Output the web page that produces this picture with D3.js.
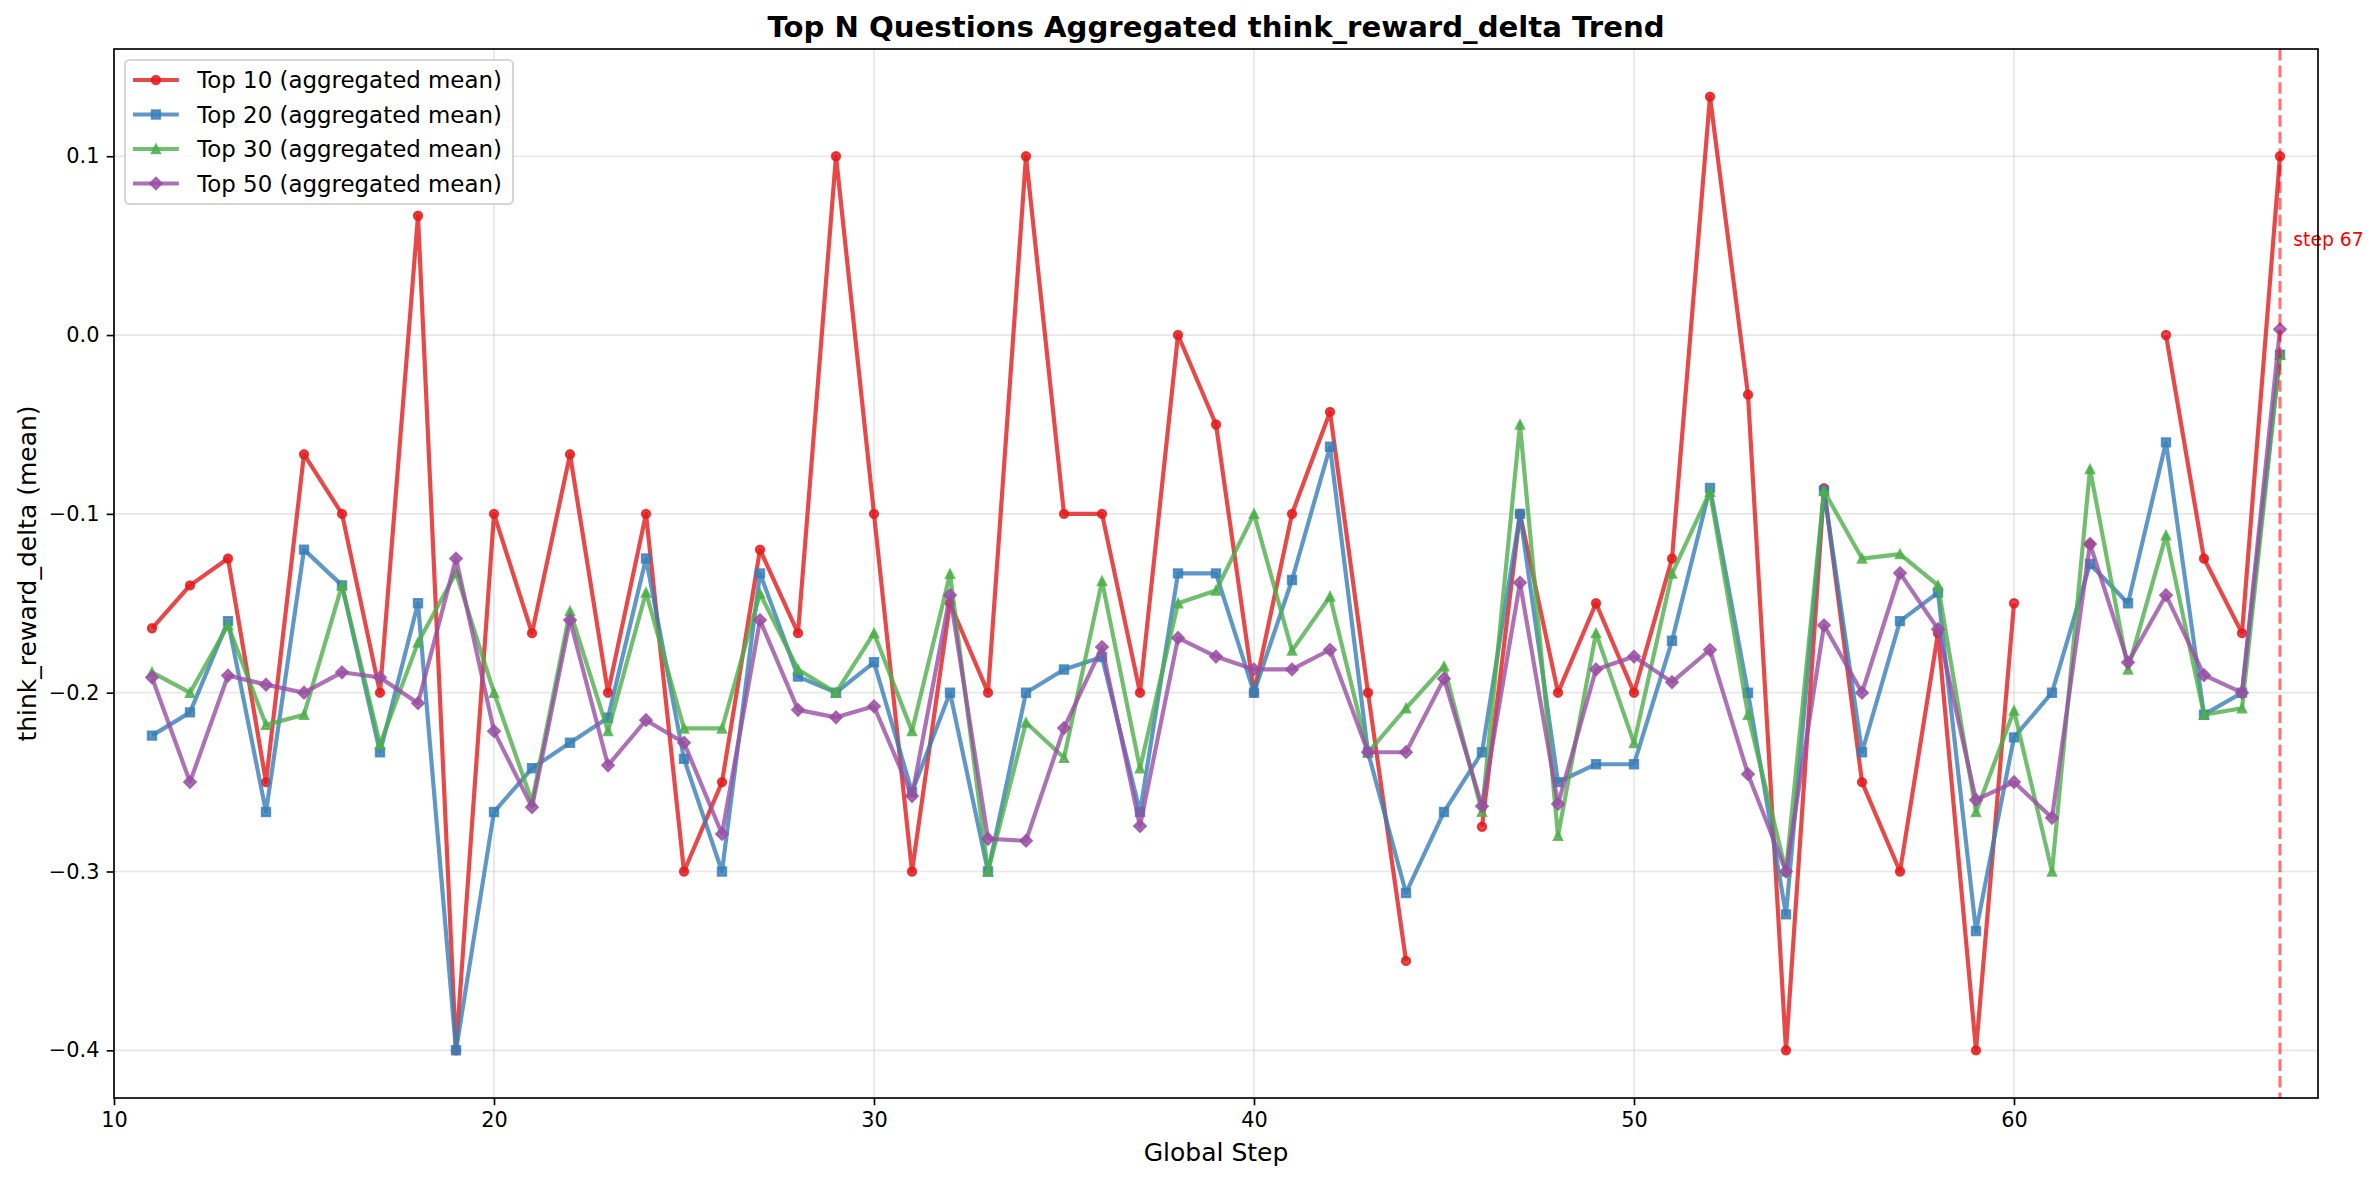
<!DOCTYPE html>
<html>
<head>
<meta charset="utf-8">
<script src="https://cdn.jsdelivr.net/npm/d3@7"></script>
<style>
  body { margin: 0; background: #fff; }
  svg { display: block; }
  text { font-family: "DejaVu Sans", sans-serif; }
</style>
</head>
<body>
<svg id="chart"></svg>
<script>
// data
var steps = [11, 12, 13, 14, 15, 16, 17, 18, 19, 20, 21, 22, 23, 24, 25, 26, 27, 28, 29,
             30, 31, 32, 33, 34, 35, 36, 37, 38, 39, 40, 41, 42, 43, 44, 45, 46, 47, 48,
             49, 50, 51, 52, 53, 54, 55, 56, 57, 58, 59, 60, 61, 62, 63, 64, 65, 66, 67];

var top10 = [-0.164, -0.14, -0.125, -0.25, -0.0667, -0.1, -0.2, 0.0667, -0.4, -0.1,
             -0.1667, -0.0667, -0.2, -0.1, -0.3, -0.25, -0.12, -0.1667, 0.1, -0.1,
             -0.3, -0.15, -0.2, 0.1, -0.1, -0.1, -0.2, 0.0, -0.05, -0.2,
             -0.1, -0.043, -0.2, -0.35, null, -0.275, -0.1, -0.2, -0.15, -0.2,
             -0.125, 0.1333, -0.0333, -0.4, -0.0857, -0.25, -0.3, -0.1667, -0.4, -0.15,
             null, -0.117, null, 0.0, -0.125, -0.1667, 0.1];

var top20 = [-0.224, -0.211, -0.16, -0.2667, -0.12, -0.14, -0.2333, -0.15, -0.4, -0.2667,
             -0.2423, -0.228, -0.214, -0.125, -0.237, -0.3, -0.1333, -0.191, -0.2, -0.183,
             -0.2556, -0.2, -0.3, -0.2, -0.187, -0.18, -0.2667, -0.1333, -0.1333, -0.2,
             -0.137, -0.0625, -0.2333, -0.312, -0.2667, -0.2333, -0.1, -0.25, -0.24, -0.24,
             -0.171, -0.0855, -0.2, -0.324, -0.087, -0.2333, -0.16, -0.144, -0.3333, -0.225,
             -0.2, -0.128, -0.15, -0.06, -0.2123, -0.2, -0.011];

var top30 = [-0.1886, -0.2, -0.1623, -0.218, -0.2123, -0.14, -0.229, -0.172, -0.133, -0.2,
             -0.261, -0.1544, -0.2215, -0.144, -0.22, -0.22, -0.1446, -0.187, -0.2, -0.1667,
             -0.2215, -0.1336, -0.3, -0.2167, -0.2364, -0.1376, -0.2423, -0.15, -0.1429, -0.1,
             -0.1765, -0.1462, -0.2335, -0.2087, -0.1853, -0.2666, -0.05, -0.28, -0.1667, -0.2282,
             -0.1334, -0.0876, -0.2123, -0.3, -0.0872, -0.125, -0.1225, -0.14, -0.2667, -0.21,
             -0.3, -0.075, -0.187, -0.112, -0.2123, -0.2087, -0.011];

var top50 = [-0.1915, -0.25, -0.1904, -0.1955, -0.2, -0.1886, -0.1915, -0.2059, -0.125, -0.2215,
             -0.264, -0.1594, -0.2406, -0.2154, -0.228, -0.279, -0.1594, -0.2096, -0.2138, -0.2076,
             -0.2578, -0.1455, -0.2817, -0.2828, -0.2198, -0.1745, -0.2746, -0.1694, -0.1798, -0.187,
             -0.187, -0.176, -0.2333, -0.2333, -0.1922, -0.2635, -0.1385, -0.2622, -0.187, -0.1798,
             -0.1941, -0.176, -0.2456, -0.3, -0.1623, -0.2, -0.1331, -0.1645, -0.26, -0.25,
             -0.27, -0.1168, -0.1831, -0.1455, -0.1902, -0.2, 0.0032];

var seriesNames = ["Top 10 (aggregated mean)", "Top 20 (aggregated mean)",
                   "Top 30 (aggregated mean)", "Top 50 (aggregated mean)"];
var seriesValues = [top10, top20, top30, top50];
var seriesColors = ["#e41a1c", "#377eb8", "#4daf4a", "#984ea3"];
var seriesMarkers = ["circle", "square", "triangle", "diamond"];

var xTicks = [10, 20, 30, 40, 50, 60];
var yTicks = [-0.4, -0.3, -0.2, -0.1, 0.0, 0.1];
var xLimits = [10, 68];
var markStep = 67;
var markLabel = "step 67";
var markLabelY = 0.0535;

var titleText = "Top N Questions Aggregated think_reward_delta Trend";
var xLabelText = "Global Step";
var yLabelText = "think_reward_delta (mean)";

// layout (px, figure at 150 dpi)
var width = 2378, height = 1180,
    plot = { left: 114, right: 2318, top: 49, bottom: 1098 },
    pt = 150 / 72,
    lineW = 2 * pt,
    markerSize = 4 * pt,
    tickLen = 3.5 * pt;

var svg = d3.select("#chart").attr("width", width).attr("height", height);

// matplotlib style 5% margin on y
var allVals = [].concat(top10, top20, top30, top50).filter(function(v) { return v != null; });
var yMin = d3.min(allVals), yMax = d3.max(allVals), yPad = (yMax - yMin) * 0.05;

var x = d3.scaleLinear().domain(xLimits).range([plot.left, plot.right]);
var y = d3.scaleLinear().domain([yMin - yPad, yMax + yPad]).range([plot.bottom, plot.top]);

// grid
var grid = svg.append("g").attr("stroke", "#b0b0b0").attr("stroke-opacity", 0.3).attr("stroke-width", 0.8 * pt);
grid.selectAll(".gx").data(xTicks).enter().append("line")
  .attr("x1", function(d) { return x(d); }).attr("x2", function(d) { return x(d); })
  .attr("y1", plot.top).attr("y2", plot.bottom);
grid.selectAll(".gy").data(yTicks).enter().append("line")
  .attr("y1", function(d) { return y(d); }).attr("y2", function(d) { return y(d); })
  .attr("x1", plot.left).attr("x2", plot.right);

function markerPath(kind, s) {
  var h = s / 2, d = s * 0.7071;
  if (kind === "square") return "M" + -h + "," + -h + "H" + h + "V" + h + "H" + -h + "Z";
  if (kind === "triangle") return "M0," + -h + "L" + h + "," + h + "L" + -h + "," + h + "Z";
  if (kind === "diamond") return "M0," + -d + "L" + d + ",0L0," + d + "L" + -d + ",0Z";
  return d3.arc()({ innerRadius: 0, outerRadius: h, startAngle: 0, endAngle: 2 * Math.PI });
}

var line = d3.line()
  .defined(function(d) { return d.v != null; })
  .x(function(d) { return x(d.s); })
  .y(function(d) { return y(d.v); });

seriesValues.forEach(function(vals, i) {
  var pts = steps.map(function(s, j) { return { s: s, v: vals[j] }; });
  var g = svg.append("g");
  g.append("path").datum(pts)
    .attr("d", line)
    .attr("fill", "none")
    .attr("stroke", seriesColors[i])
    .attr("stroke-opacity", 0.8)
    .attr("stroke-width", lineW)
    .attr("stroke-linejoin", "round");
  g.selectAll("path.mk").data(pts.filter(function(d) { return d.v != null; }))
    .enter().append("path")
    .attr("class", "mk")
    .attr("d", markerPath(seriesMarkers[i], markerSize))
    .attr("transform", function(d) { return "translate(" + x(d.s) + "," + y(d.v) + ")"; })
    .attr("fill", seriesColors[i]).attr("fill-opacity", 0.8)
    .attr("stroke", seriesColors[i]).attr("stroke-opacity", 0.8)
    .attr("stroke-width", 1 * pt);
});

// marker line for latest step
svg.append("line")
  .attr("x1", x(markStep)).attr("x2", x(markStep))
  .attr("y1", plot.top).attr("y2", plot.bottom)
  .attr("stroke", "red").attr("stroke-opacity", 0.55)
  .attr("stroke-width", 1.5 * pt)
  .attr("stroke-dasharray", (3.7 * 1.5 * pt) + "," + (1.6 * 1.5 * pt));
svg.append("text")
  .attr("x", x(markStep + 0.35)).attr("y", y(markLabelY))
  .attr("dy", "0.35em")
  .attr("fill", "red")
  .attr("font-size", 9 * pt)
  .text(markLabel);

// axes
var xAxis = d3.axisBottom(x).tickValues(xTicks).tickSize(tickLen).tickPadding(tickLen).tickFormat(d3.format("d"));
var yAxis = d3.axisLeft(y).tickValues(yTicks).tickSize(tickLen).tickPadding(tickLen).tickFormat(d3.format(".1f"));

var gx = svg.append("g").attr("transform", "translate(0," + plot.bottom + ")").call(xAxis);
var gy = svg.append("g").attr("transform", "translate(" + plot.left + ",0)").call(yAxis);
[gx, gy].forEach(function(g) {
  g.select(".domain").remove();
  g.selectAll(".tick line").attr("stroke", "#000").attr("stroke-width", 0.8 * pt);
  g.selectAll(".tick text").attr("fill", "#000").attr("font-size", 10 * pt)
    .attr("font-family", "DejaVu Sans");
});

svg.append("rect")
  .attr("x", plot.left).attr("y", plot.top)
  .attr("width", plot.right - plot.left).attr("height", plot.bottom - plot.top)
  .attr("fill", "none").attr("stroke", "#000").attr("stroke-width", 0.8 * pt);

// labels
svg.append("text")
  .attr("x", (plot.left + plot.right) / 2).attr("y", plot.top - 6 * pt)
  .attr("text-anchor", "middle").attr("font-size", 14 * pt).attr("font-weight", "bold")
  .text(titleText);
svg.append("text")
  .attr("x", (plot.left + plot.right) / 2).attr("y", 1161)
  .attr("text-anchor", "middle").attr("font-size", 12 * pt)
  .text(xLabelText);
svg.append("text")
  .attr("transform", "translate(27," + (plot.top + plot.bottom) / 2 + ") rotate(-90)")
  .attr("dy", "0.35em")
  .attr("text-anchor", "middle").attr("font-size", 12 * pt)
  .text(yLabelText);

// legend
var fs = 11 * pt,
    lx = plot.left + 11, ly = plot.top + 11,
    rowH = 34.5;
var legend = svg.append("g");
legend.append("rect")
  .attr("x", lx).attr("y", ly).attr("width", 388).attr("height", 144)
  .attr("rx", 4.5).attr("ry", 4.5)
  .attr("fill", "#fff").attr("fill-opacity", 0.8)
  .attr("stroke", "#cccccc").attr("stroke-opacity", 0.8).attr("stroke-width", 1 * pt);
seriesNames.forEach(function(name, i) {
  var cy = ly + 20 + i * rowH;
  legend.append("line")
    .attr("x1", lx + 8).attr("x2", lx + 8 + 2 * fs)
    .attr("y1", cy).attr("y2", cy)
    .attr("stroke", seriesColors[i]).attr("stroke-opacity", 0.8).attr("stroke-width", lineW);
  legend.append("path")
    .attr("d", markerPath(seriesMarkers[i], markerSize))
    .attr("transform", "translate(" + (lx + 8 + fs) + "," + cy + ")")
    .attr("fill", seriesColors[i]).attr("fill-opacity", 0.8)
    .attr("stroke", seriesColors[i]).attr("stroke-opacity", 0.8).attr("stroke-width", 1 * pt);
  legend.append("text")
    .attr("x", lx + 8 + 2 * fs + 0.8 * fs).attr("y", cy).attr("dy", "0.35em")
    .attr("font-size", fs)
    .text(name);
});
</script>
</body>
</html>
